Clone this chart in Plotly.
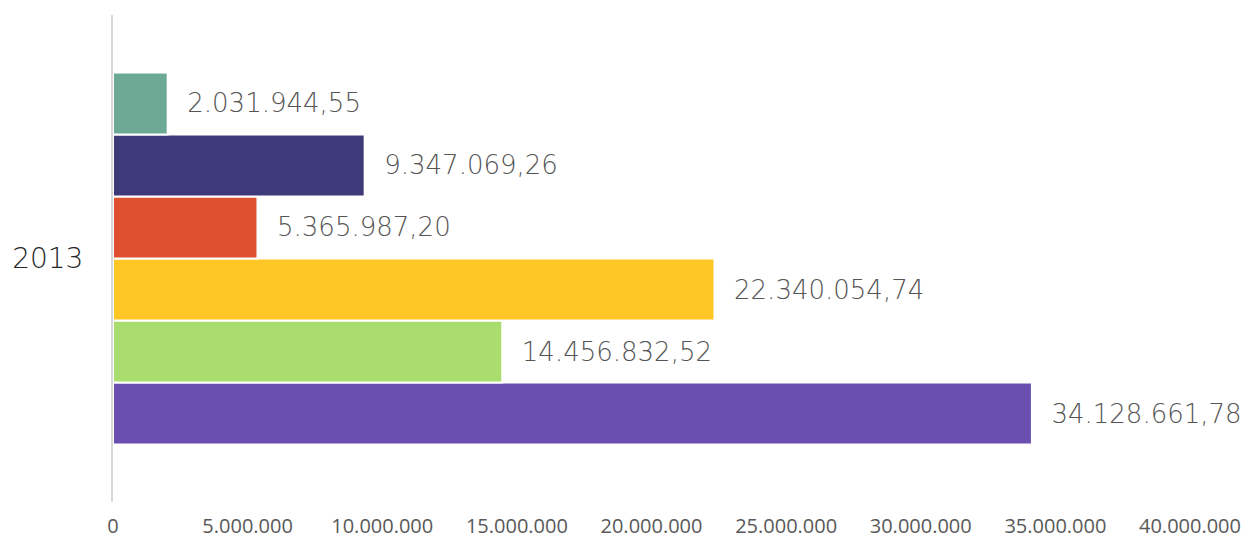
import plotly.graph_objects as go

# One year, six amounts (bottom to top in drawing order)
year = ["2013"]
series_names = ["Serie 6", "Serie 5", "Serie 4", "Serie 3", "Serie 2", "Serie 1"]
series_values = [34128661.78, 14456832.52, 22340054.74, 5365987.20, 9347069.26, 2031944.55]
series_colors = ["#6A4FB0", "#A9DE6E", "#FFC726", "#DE5030", "#3E3978", "#6DAA96"]
x_ticks = [0, 5e6, 10e6, 15e6, 20e6, 25e6, 30e6, 35e6, 40e6]

fig = go.Figure()
for name, val, col in zip(series_names, series_values, series_colors):
    fig.add_trace(go.Bar(
        y=year, x=[val], name=name, orientation="h",
        marker=dict(color=col, line=dict(color="white", width=2)),
        texttemplate="\u00a0\u00a0%{x:,.2f}",
        textposition="outside",
        constraintext="none",
        cliponaxis=False,
        textfont=dict(family="DejaVu Sans", size=26, color="#555555", weight=200),
        hoverinfo="skip",
    ))

fig.update_layout(
    barmode="group",
    bargap=0.236,
    bargroupgap=0,
    separators=",.",
    showlegend=False,
    width=1253, height=542,
    margin=dict(l=113, r=63, t=15, b=40, autoexpand=False),
    plot_bgcolor="white", paper_bgcolor="white",
)
fig.update_xaxes(
    range=[0, 40e6], tickvals=x_ticks, tickformat=",d",
    showgrid=False, zeroline=False, showline=False, ticks="",
    ticklabelstandoff=10, automargin=False,
    tickfont=dict(family="Open Sans", size=20, color="#595959"),
)
fig.update_yaxes(
    showgrid=False, zeroline=False, showline=True, linecolor="#D9D9D9", linewidth=2,
    ticks="", ticklabelstandoff=22, automargin=False,
    tickfont=dict(family="DejaVu Sans", size=28, color="#262626", weight=200),
)

fig.write_html("out.html")
